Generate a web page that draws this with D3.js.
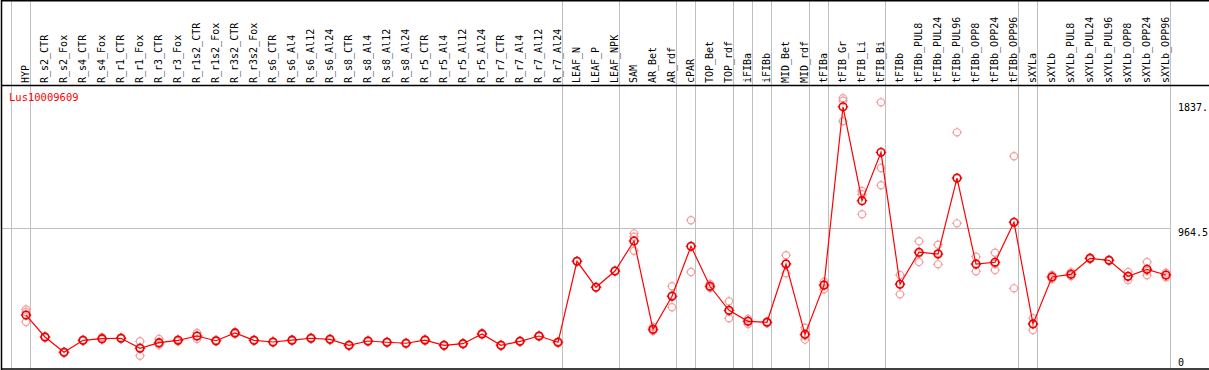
<!DOCTYPE html>
<html><head><meta charset="utf-8">
<script src="https://cdn.jsdelivr.net/npm/d3@7"></script>
<style>html,body{margin:0;padding:0;background:#fff;}svg{display:block;}</style>
</head><body>
<script>
const categories = ["HYP","R_s2_CTR","R_s2_Fox","R_s4_CTR","R_s4_Fox","R_r1_CTR","R_r1_Fox","R_r3_CTR","R_r3_Fox","R_r1s2_CTR","R_r1s2_Fox","R_r3s2_CTR","R_r3s2_Fox","R_s6_CTR","R_s6_Al4","R_s6_Al12","R_s6_Al24","R_s8_CTR","R_s8_Al4","R_s8_Al12","R_s8_Al24","R_r5_CTR","R_r5_Al4","R_r5_Al12","R_r5_Al24","R_r7_CTR","R_r7_Al4","R_r7_Al12","R_r7_Al24","LEAF_N","LEAF_P","LEAF_NPK","SAM","AR_Bet","AR_rdf","cPAR","TOP_Bet","TOP_rdf","iFIBa","iFIBb","MID_Bet","MID_rdf","tFIBa","tFIB_Gr","tFIB_Li","tFIB_Bi","tFIBb","tFIBb_PUL8","tFIBb_PUL24","tFIBb_PUL96","tFIBb_OPP8","tFIBb_OPP24","tFIBb_OPP96","sXYLa","sXYLb","sXYLb_PUL8","sXYLb_PUL24","sXYLb_PUL96","sXYLb_OPP8","sXYLb_OPP24","sXYLb_OPP96"];
const means = [338,180,70,156,168,171,99,139,156,187,153,209,156,144,157,171,163,120,151,142,135,158,120,132,202,120,149,187,142,725,538,655,871,235,473,833,545,372,293,286,705,199,553,1837,1161,1509,559,790,777,1324,705,718,1006,274,612,631,746,732,617,667,626];
const rep1 = [378,175,66,152,178,176,149,166,163,209,148,216,160,140,152,166,168,116,146,138,131,163,116,128,207,124,145,192,137,725,538,655,926,223,545,1020,561,437,274,281,768,247,578,1898,1231,1869,626,869,844,1653,758,787,1481,315,626,617,740,728,648,720,643];
const rep2 = [360,185,74,160,163,168,45,122,150,166,158,202,152,148,162,176,158,124,156,146,139,153,124,136,197,116,153,182,147,725,538,655,902,230,394,648,533,315,310,291,638,161,523,1880,1207,1396,487,720,703,998,653,662,530,230,597,646,752,736,590,624,610];
const rep3 = [288,180,70,156,163,169,103,129,155,186,153,209,156,144,157,171,163,120,151,142,135,158,120,132,202,120,149,187,142,725,538,655,801,252,480,831,541,364,295,286,709,189,558,1733,1063,1272,564,781,784,1321,704,705,1007,277,612,631,746,732,613,657,626];
const groupEnds = ["HYP","R_r7_Al24","LEAF_NPK","AR_rdf","cPAR","TOP_rdf","iFIBa","iFIBb","MID_rdf","tFIBa","tFIB_Bi","tFIBb_OPP96","sXYLa","sXYLb_OPP96"];
const yTickValues = [1837, 964.5, 0];
const yTickLabels = ["1837.", "964.5", "0"];
const yMax = 1929;
const title = "Lus10009609";

const W = 1209, H = 370;
const FONT = "'DejaVu Sans Mono', monospace";
const svg = d3.select("body").append("svg").attr("width", W).attr("height", H);

const x = d3.scalePoint().domain(categories).range([26, 1166]).padding(0);
const y = d3.scaleLinear().domain([0, yMax]).range([362, 94]);
const step = x.step();

// vertical separators (full height)
const sepX = [x(categories[0]) - step].concat(groupEnds.map(c => x(c))).map(v => Math.floor(v + 4.7) + 0.5);
svg.append("g").selectAll("line").data(sepX).join("line")
  .attr("x1", d => d).attr("x2", d => d).attr("y1", 0).attr("y2", 369)
  .attr("stroke", "#c0c0c0").attr("stroke-width", 1);

// horizontal grid at mid value
svg.append("line").attr("x1", 1).attr("x2", 1170).attr("y1", Math.floor(y(964.5)) + 0.5).attr("y2", Math.floor(y(964.5)) + 0.5)
  .attr("stroke", "#c0c0c0").attr("stroke-width", 1);

// frame (no right border)
const frame = svg.append("g").attr("stroke", "#000").attr("stroke-width", 1.5);
frame.append("line").attr("x1", 1).attr("x2", W).attr("y1", 0.75).attr("y2", 0.75);
frame.append("line").attr("x1", 1.5).attr("x2", 1.5).attr("y1", 0).attr("y2", 370);
frame.append("line").attr("x1", 1).attr("x2", W).attr("y1", 85.5).attr("y2", 85.5);
frame.append("line").attr("x1", 1).attr("x2", W).attr("y1", 369).attr("y2", 369);

// header labels
svg.append("g").selectAll("text").data(categories).join("text")
  .attr("transform", d => `translate(${x(d) + 2.8},83) rotate(-90)`)
  .attr("font-family", FONT).attr("font-size", 10).attr("fill", "#000")
  .text(d => d);

// title
svg.append("text").attr("x", 9).attr("y", 101).attr("font-family", FONT).attr("font-size", 10.5)
  .attr("fill", "#ff0000").text(title);

// right axis labels
const dyOff = [4, 8, 3.5];
svg.append("g").selectAll("text").data(yTickValues).join("text")
  .attr("x", 1178).attr("y", (d, i) => y(d) + dyOff[i])
  .attr("font-family", FONT).attr("font-size", 10).attr("fill", "#000")
  .text((d, i) => yTickLabels[i]);

function marker(g, cx, cy, r, color, sw) {
  g.append("circle").attr("cx", cx).attr("cy", cy).attr("r", r).attr("fill", "none")
    .attr("stroke", color).attr("stroke-width", sw);
  const t = r + 1.5;
  [[0, -1], [0, 1], [-1, 0], [1, 0]].forEach(([a, b]) => {
    g.append("line").attr("x1", cx + a * (r - 0.5)).attr("y1", cy + b * (r - 0.5))
      .attr("x2", cx + a * t).attr("y2", cy + b * t).attr("stroke", color).attr("stroke-width", 1);
  });
}

// replicates
const gRep = svg.append("g");
[rep1, rep2, rep3].forEach(rep => {
  rep.forEach((v, i) => marker(gRep, x(categories[i]), y(v), 3.6, "#f2a0a0", 1.2));
});

// mean line
const line = d3.line().x((d, i) => x(categories[i])).y(d => y(d));
svg.append("path").datum(means).attr("d", line).attr("fill", "none").attr("stroke", "#ff0000").attr("stroke-width", 1.2);

// mean markers
const gMean = svg.append("g");
means.forEach((v, i) => marker(gMean, x(categories[i]), y(v), 3.8, "#ee0000", 1.6));
</script>
</body></html>
